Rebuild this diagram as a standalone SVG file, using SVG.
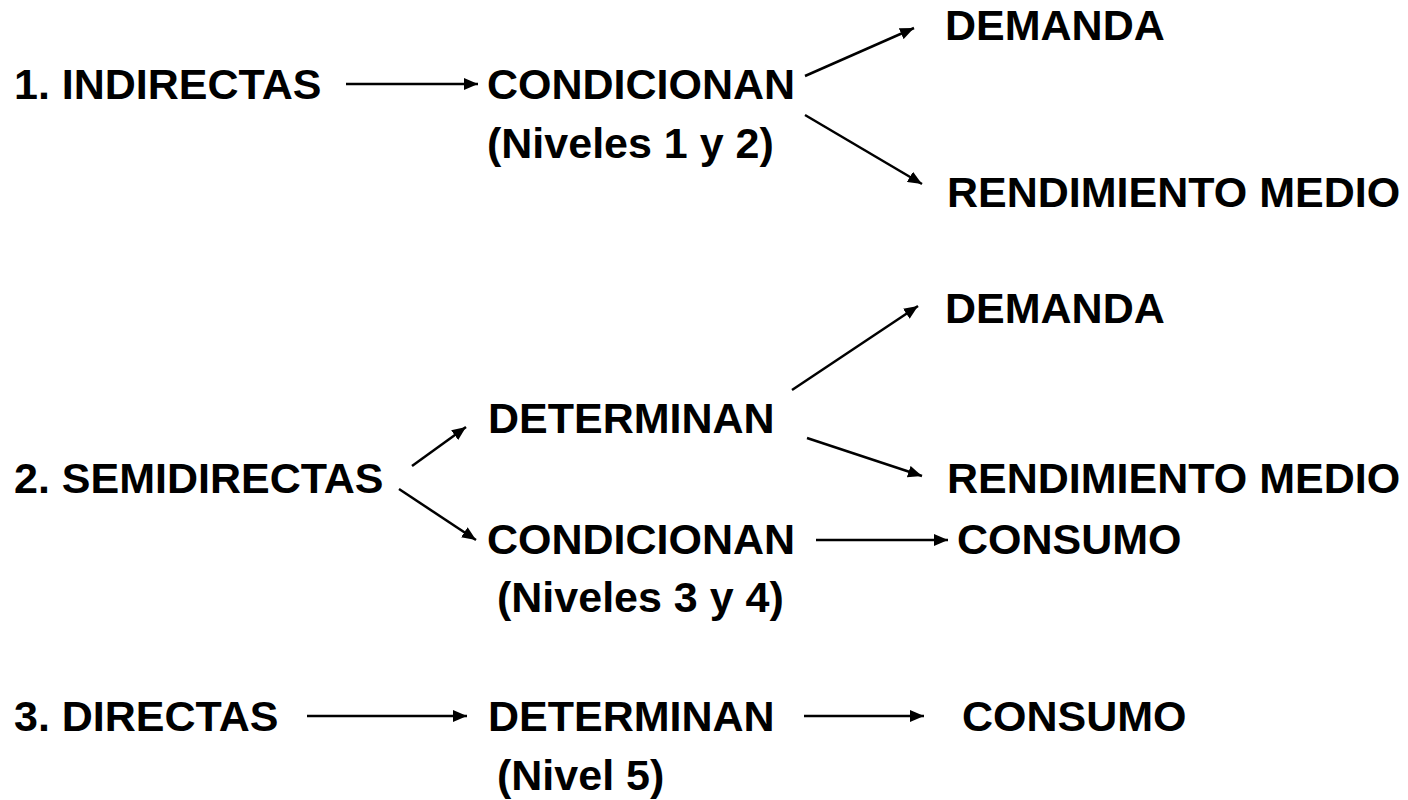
<svg xmlns="http://www.w3.org/2000/svg" width="1408" height="800" viewBox="0 0 1408 800">
<style>
text{font-family:"Liberation Sans",Arial,sans-serif;font-weight:bold;font-size:43px;fill:#000}
.c line{stroke:#000;stroke-width:2.5;marker-end:url(#ah)}
</style>
<defs>
<marker id="ah" markerUnits="userSpaceOnUse" markerWidth="16" markerHeight="12" refX="14" refY="6" orient="auto">
<path d="M0,0 L14,6 L0,12 Z" fill="#000"/>
</marker>
</defs>
<rect width="1408" height="800" fill="#fff"/>
<g id="n-indirectas"><text x="14" y="99">1. INDIRECTAS</text></g>
<g id="n-condicionan1"><text x="487" y="99">CONDICIONAN</text><text x="487" y="158">(Niveles 1 y 2)</text></g>
<g id="n-demanda1"><text x="945" y="40">DEMANDA</text></g>
<g id="n-rendimiento1"><text x="947" y="207">RENDIMIENTO MEDIO</text></g>
<g id="n-demanda2"><text x="945" y="323">DEMANDA</text></g>
<g id="n-determinan1"><text x="488" y="433">DETERMINAN</text></g>
<g id="n-semidirectas"><text x="14" y="493">2. SEMIDIRECTAS</text></g>
<g id="n-rendimiento2"><text x="947" y="493">RENDIMIENTO MEDIO</text></g>
<g id="n-condicionan2"><text x="487" y="554">CONDICIONAN</text><text x="497" y="612">(Niveles 3 y 4)</text></g>
<g id="n-consumo1"><text x="957" y="554">CONSUMO</text></g>
<g id="n-directas"><text x="14" y="731">3. DIRECTAS</text></g>
<g id="n-determinan2"><text x="488" y="731">DETERMINAN</text><text x="497" y="790">(Nivel 5)</text></g>
<g id="n-consumo2"><text x="962" y="731">CONSUMO</text></g>
<g id="connectors" class="c">
<line x1="346" y1="84" x2="478" y2="84"/>
<line x1="805" y1="76" x2="914" y2="28"/>
<line x1="805" y1="115" x2="922" y2="184"/>
<line x1="792" y1="390" x2="918" y2="306"/>
<line x1="807" y1="438" x2="922" y2="476"/>
<line x1="412" y1="466" x2="466" y2="427"/>
<line x1="399" y1="489" x2="476" y2="540"/>
<line x1="816" y1="540" x2="948" y2="540"/>
<line x1="307" y1="716" x2="467" y2="716"/>
<line x1="804" y1="716" x2="924" y2="716"/>
</g>
</svg>
